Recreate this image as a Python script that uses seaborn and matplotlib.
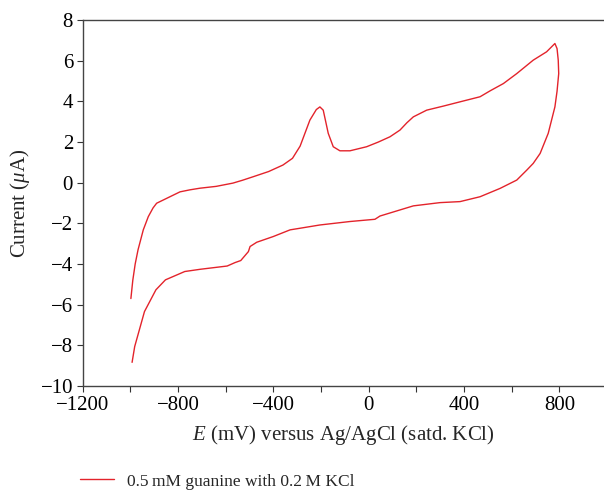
import matplotlib
matplotlib.use("Agg")
import matplotlib.pyplot as plt
import seaborn as sns
import pandas as pd

# forward scan (-1000 -> 800 mV)
e_fwd = [-998, -990, -980, -968, -946, -925, -905, -890, -848, -792, -750, -708,
         -640, -570, -530, -486, -420, -360, -320, -288, -247, -220, -205, -191,
         -170, -149, -121, -79, -9, 40, 89, 131, 160, 187, 243, 313, 383, 467,
         509, 565, 621, 690, 746, 781, 790, 795, 797]
i_fwd = [-5.7, -4.8, -4.0, -3.3, -2.32, -1.67, -1.24, -1.01, -0.77, -0.45, -0.35, -0.27,
         -0.18, -0.02, 0.12, 0.29, 0.55, 0.87, 1.2, 1.8, 3.08, 3.6, 3.73, 3.57,
         2.43, 1.77, 1.57, 1.57, 1.77, 2.0, 2.26, 2.59, 2.95, 3.24, 3.57, 3.77, 3.98, 4.23,
         4.52, 4.88, 5.37, 6.03, 6.44, 6.85, 6.6, 6.03, 5.37]

# reverse scan (800 -> -1000 mV)
e_rev = [790, 781, 753, 719, 690, 663, 621, 551, 467, 383, 299, 187, 131, 47, 26,
         -79, -205, -288, -330, -401, -470, -498, -505, -537, -561, -594, -707,
         -772, -853, -893, -941, -982, -993]
i_rev = [4.5, 3.73, 2.43, 1.44, 0.95, 0.62, 0.13, -0.28, -0.69, -0.93, -0.98, -1.14,
         -1.34, -1.64, -1.80, -1.91, -2.08, -2.24, -2.32, -2.65, -2.93, -3.14, -3.39,
         -3.83, -3.93, -4.1, -4.26, -4.37, -4.78, -5.27, -6.34, -8.06, -8.84]

label = "0.5\u2009mM guanine with 0.2\u2009M KCl"

df = pd.DataFrame({"E": e_fwd + e_rev, "I": i_fwd + i_rev})

sns.set_style("ticks")
plt.rcParams["font.family"] = ["Liberation Serif", "DejaVu Serif"]
plt.rcParams["mathtext.fontset"] = "custom"
plt.rcParams["mathtext.rm"] = "Liberation Serif"
plt.rcParams["mathtext.it"] = "Liberation Serif:italic"
plt.rcParams["font.size"] = 15

fig = plt.figure(figsize=(6.04, 4.91), dpi=100)
ax = fig.add_axes([0.137, 0.214, 0.863, 0.745])

sns.lineplot(data=df, x="E", y="I", sort=False, estimator=None, color="#e3232b",
             linewidth=1.0, ax=ax, label=label, legend=False)

ax.set_xlim(-1200, 987)
ax.set_ylim(-10, 8)
ax.set_xticks([-1200, -800, -400, 0, 400, 800])
ax.set_xticklabels(["\u22121200", "\u2212800", "\u2212400", "0", "400", "800"])
ax.set_xticks([-1000, -600, -200, 200, 600], minor=True)
ax.set_yticks(range(-10, 9, 2))
ax.set_yticklabels([str(v).replace("-", "\u2212") for v in range(-10, 9, 2)])
ax.tick_params(axis="both", which="both", direction="out", length=4, width=0.8,
               colors="#333333", labelcolor="black", labelsize=15, pad=3)

for s in ["left", "bottom", "top"]:
    ax.spines[s].set_color("#444444")
    ax.spines[s].set_linewidth(1.0)
ax.spines["right"].set_visible(False)

ax.set_xlabel(r"$E$ (mV) versus Ag/AgCl (satd. KCl)", fontsize=15, labelpad=6)
ax.set_ylabel(r"Current ($\mu$A)", fontsize=15, labelpad=6)

handles, labels = ax.get_legend_handles_labels()
fig.legend(handles, labels, loc="lower left", bbox_to_anchor=(0.132, 0.003),
           frameon=False, fontsize=12.5, handlelength=2.0, handletextpad=0.7,
           borderpad=0, borderaxespad=0)

fig.savefig("out.png", dpi=100)
